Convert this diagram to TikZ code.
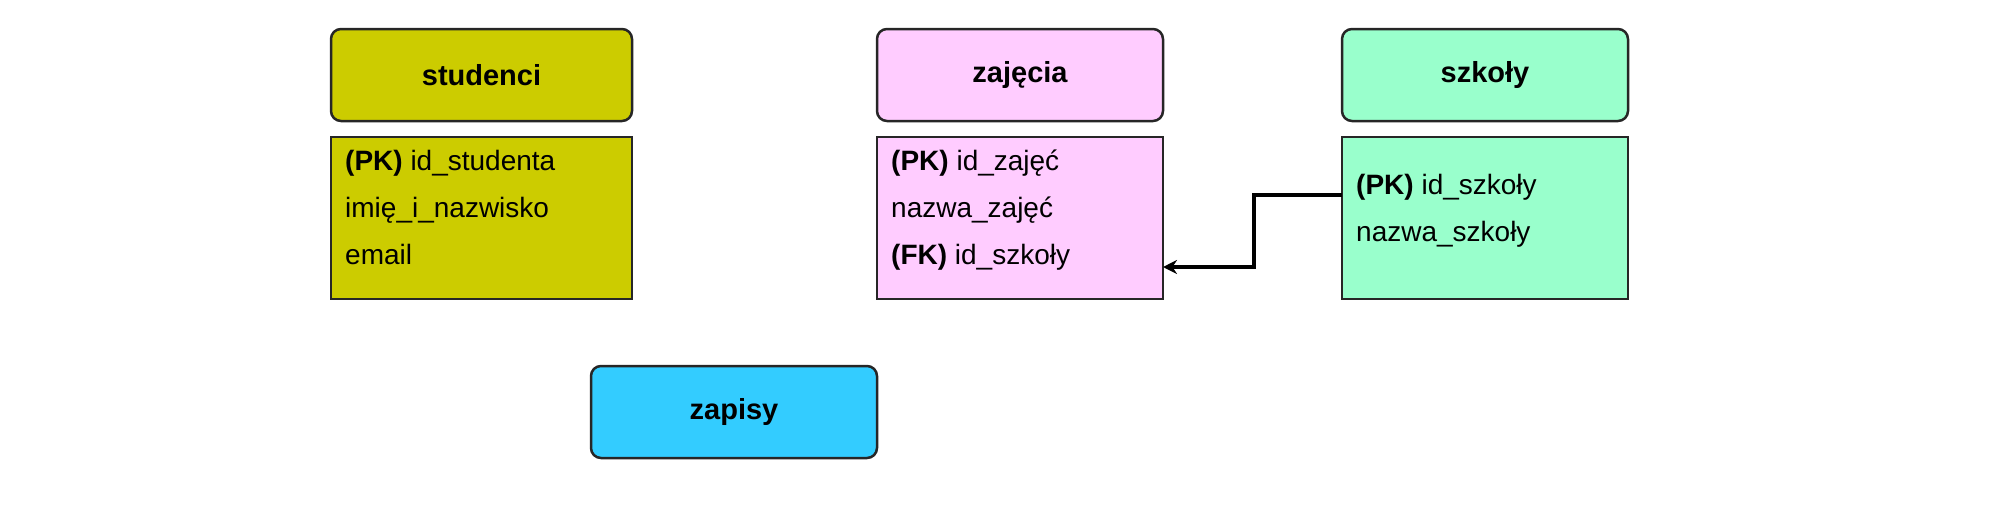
\documentclass[tikz,border=0pt]{standalone}
\usepackage{fontspec}
\setmainfont{Liberation Sans}
\usetikzlibrary{arrows.meta}
\begin{document}
\begin{tikzpicture}[x=1pt,y=-1pt,
 hdr/.style={draw=black!85,line width=2.5pt,rounded corners=10pt,font=\fontsize{29}{34}\selectfont\bfseries},
 bd/.style={draw=black!85,line width=2.5pt},
 txt/.style={anchor=north west,align=left,font=\fontsize{28}{47}\selectfont,inner sep=0pt}]
\useasboundingbox (0,0) rectangle (1993,512);
\definecolor{cst}{HTML}{CCCC00}\definecolor{cza}{HTML}{FFCCFF}
\definecolor{csz}{HTML}{99FFCC}\definecolor{cap}{HTML}{33CCFF}
% headers
\draw[hdr,fill=cst] (331,29) rectangle (632,121);
\node[font=\fontsize{29}{34}\selectfont\bfseries] (hst) at (481.5,75) {studenci};
\draw[hdr,fill=cza] (877,29) rectangle (1163,121);
\node[font=\fontsize{29}{34}\selectfont\bfseries] (hza) at (1020,75) {zajęcia};
\draw[hdr,fill=csz] (1342,29) rectangle (1628,121);
\node[font=\fontsize{29}{34}\selectfont\bfseries] (hsz) at (1485,75) {szkoły};
\draw[hdr,fill=cap] (591,366) rectangle (877,458);
\node[font=\fontsize{29}{34}\selectfont\bfseries] (hzp) at (734,412) {zapisy};
% bodies
\draw[bd,fill=cst] (331,137) rectangle (632,299);
\draw[bd,fill=cza] (877,137) rectangle (1163,299);
\draw[bd,fill=csz] (1342,137) rectangle (1628,299);
\node[txt] (tst) at (345,150) {\textbf{(PK)} id\_studenta\\imię\_i\_nazwisko\\email};
\node[txt] (tza) at (891,150) {\textbf{(PK)} id\_zajęć\\nazwa\_zajęć\\\textbf{(FK)} id\_szkoły};
\node[txt] (tsz) at (1356,174) {\textbf{(PK)} id\_szkoły\\nazwa\_szkoły};
\coordinate (a1) at (1342,195);
\coordinate (a2) at (1163,267);
\draw[line width=3.5pt,-{Stealth[length=14pt,width=14pt]}] (a1) -- (1254,195) -- (1254,267) -- (a2);
\end{tikzpicture}
\end{document}
